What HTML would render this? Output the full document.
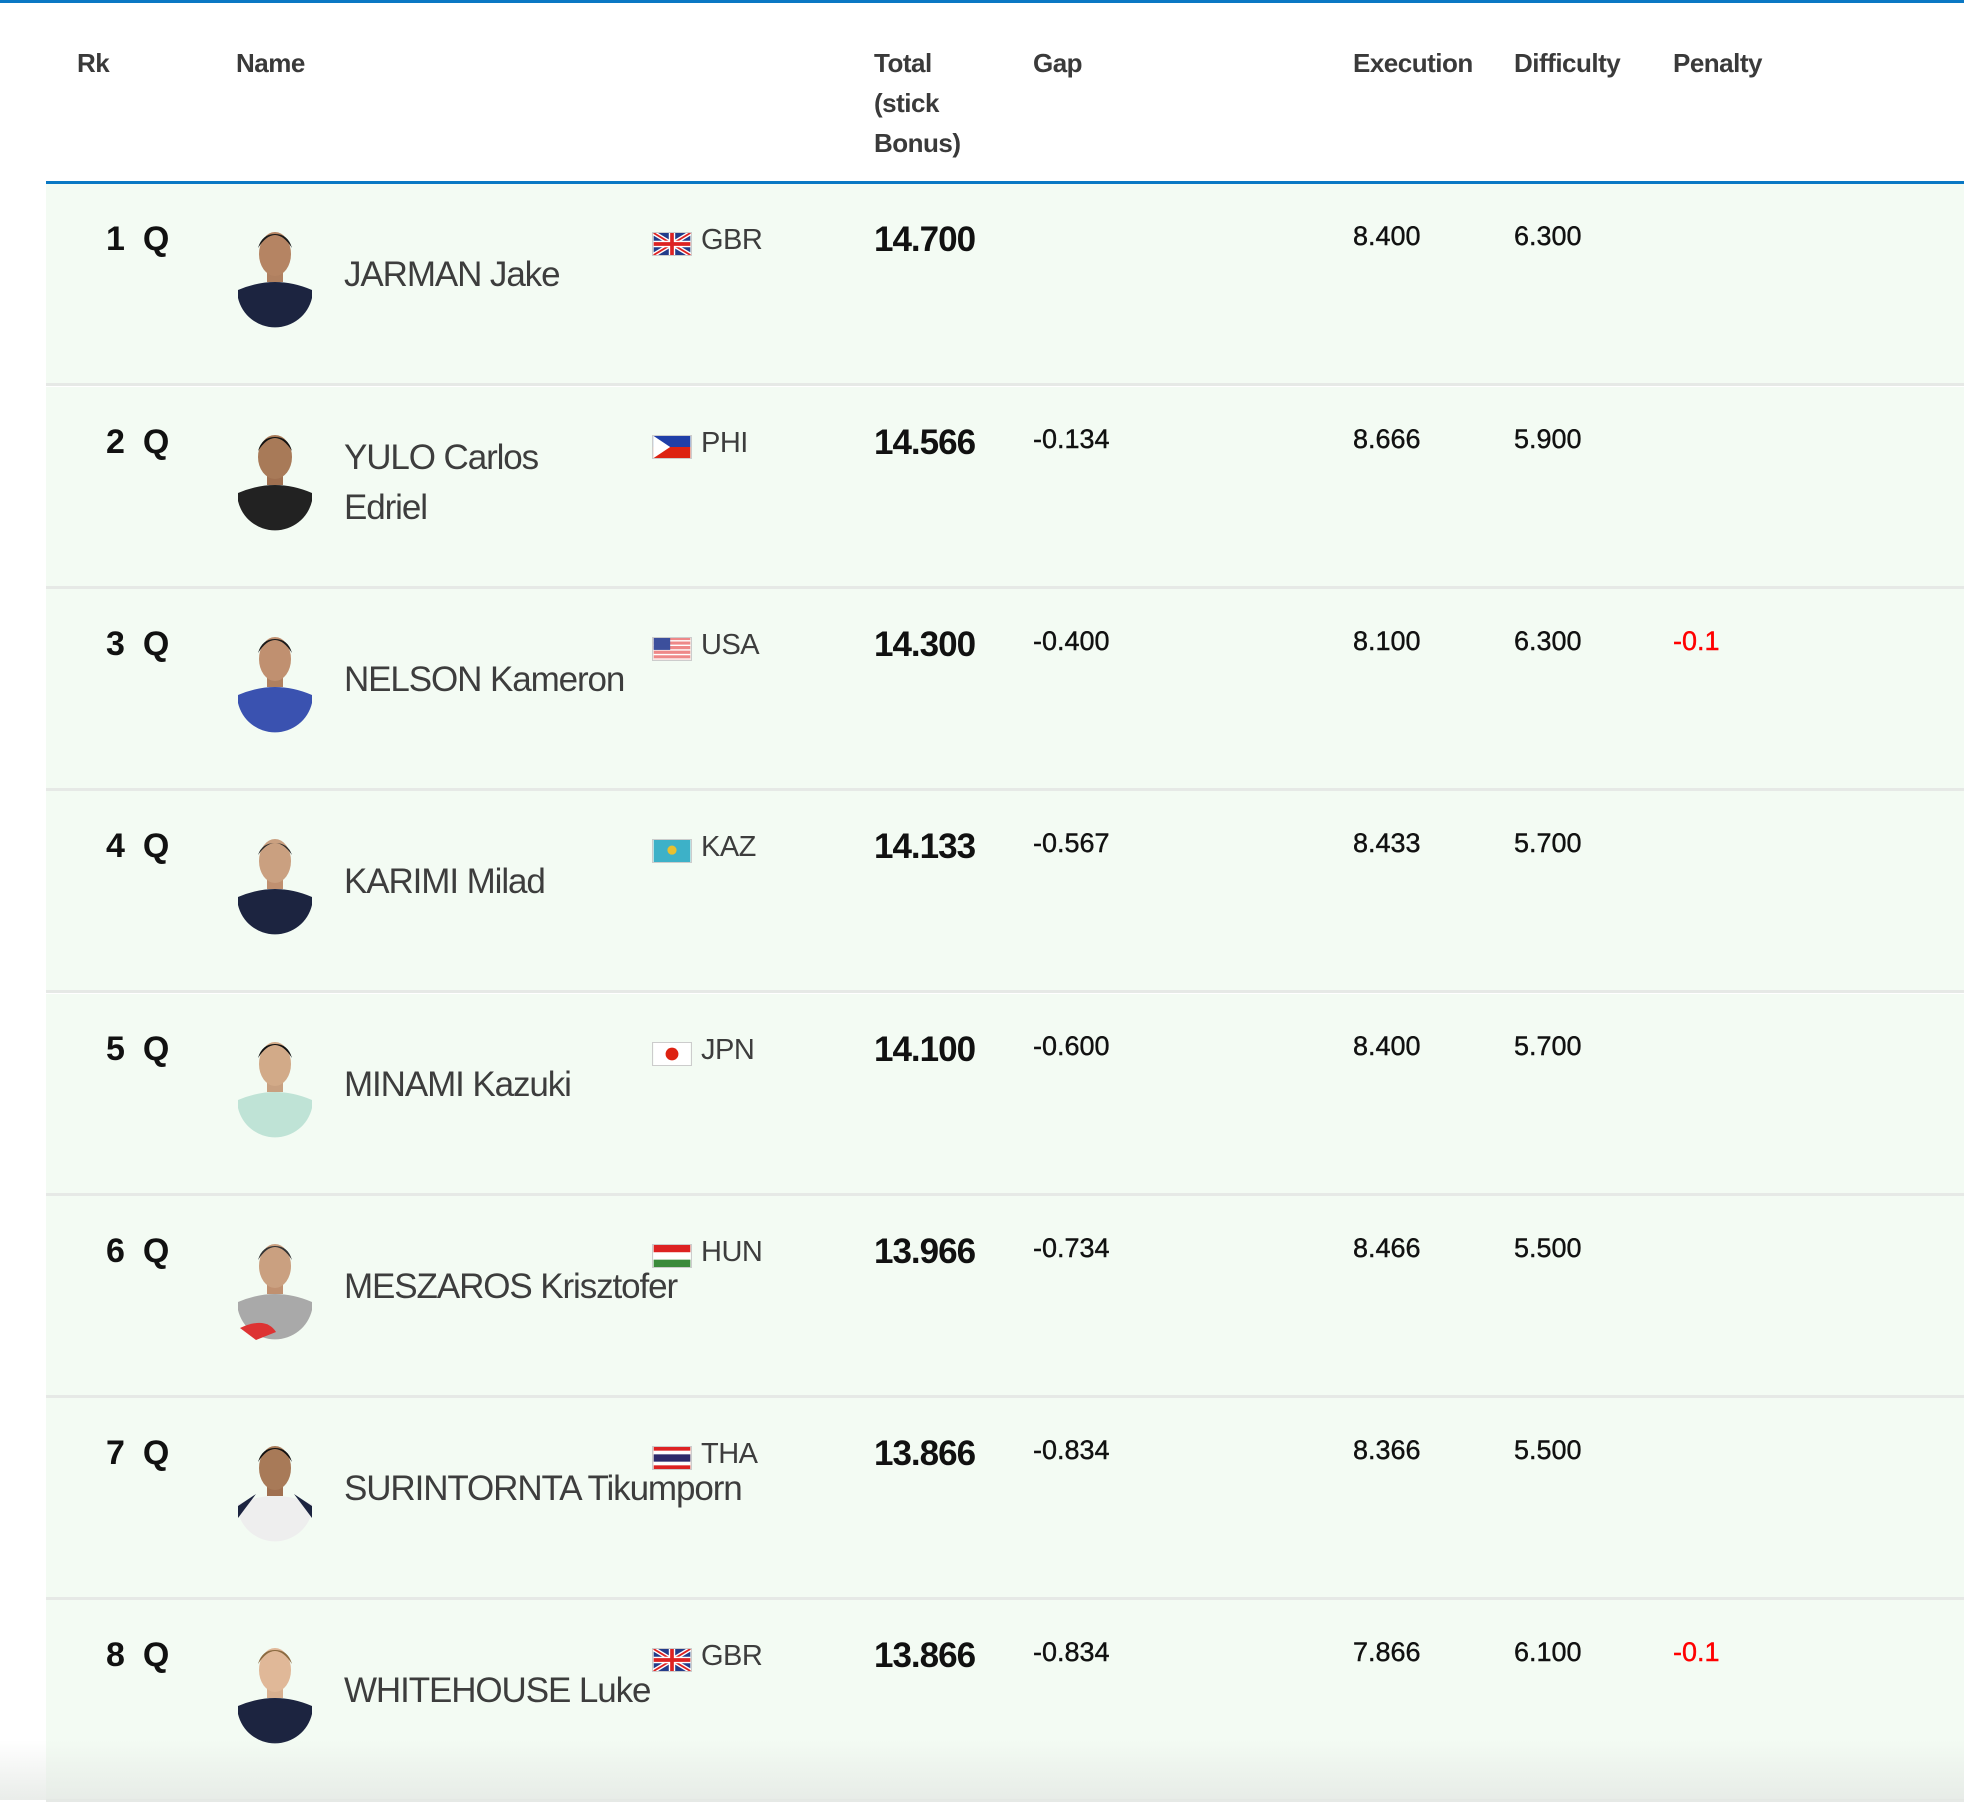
<!DOCTYPE html>
<html><head><meta charset="utf-8">
<style>
*{margin:0;padding:0;box-sizing:border-box}
body{width:1964px;height:1800px;background:#fff;font-family:"Liberation Sans",sans-serif;position:relative;overflow:hidden;color:#333}
.top{position:absolute;left:0;top:0;width:1964px;height:3px;background:#0a78c4}
.h{position:absolute;top:43px;font-size:26px;font-weight:bold;color:#3a3a3a;line-height:40px;letter-spacing:-0.5px}
.hl{position:absolute;left:46px;top:181px;width:1918px;height:3px;background:#0a78c4}
.row{position:absolute;left:46px;width:1918px;height:202px;background:#f3fbf3;border-bottom:3px solid #e6e9e6}
.rk{position:absolute;left:60px;top:36px;font-size:34px;font-weight:bold;color:#111}
.rk span{margin-left:18px}
.ph{position:absolute;left:190px;top:40px;width:78px;height:112px}
.nm{position:absolute;left:298px;font-size:35px;color:#3d3d3d;line-height:50px;letter-spacing:-1.1px;white-space:nowrap}
.fl{position:absolute;left:606px;top:48px;width:40px;height:24px;border:1px solid #ccc}
.cc{position:absolute;left:655px;top:40px;font-size:29px;color:#3d3d3d;letter-spacing:-0.5px}
.tot{position:absolute;left:828px;top:36px;font-size:35px;font-weight:bold;color:#111;letter-spacing:-1px}
.v{position:absolute;top:37px;font-size:27px;color:#111;-webkit-text-stroke:0.4px #111}
.gap{left:987px}.ex{left:1307px}.df{left:1468px}.pn{left:1627px;color:#f00;-webkit-text-stroke:0.4px #f00}
.fade{position:absolute;left:0;top:1740px;width:1964px;height:60px;background:linear-gradient(to bottom,rgba(230,234,230,0),rgba(228,232,228,0.8))}
</style></head><body>
<div class="top"></div>
<div class="h" style="left:77px">Rk</div>
<div class="h" style="left:236px">Name</div>
<div class="h" style="left:874px">Total<br>(stick<br>Bonus)</div>
<div class="h" style="left:1033px">Gap</div>
<div class="h" style="left:1353px">Execution</div>
<div class="h" style="left:1514px">Difficulty</div>
<div class="h" style="left:1673px">Penalty</div>
<div class="hl"></div>

<div class="row" style="top:184px">
 <div class="rk">1<span>Q</span></div>
 <svg class="ph" viewBox="0 0 78 112"><path d="M2 66 Q39 50 76 66 L76 74 A38 38 0 0 1 2 74Z" fill="#1c2440"/><rect x="31" y="44" width="16" height="14" fill="#b08060"/><ellipse cx="39" cy="30" rx="16" ry="22" fill="#b58463"/><path d="M22 24 Q39 -2 56 24 Q52 10 39 10 Q26 10 22 24Z" fill="#1a1a1a"/></svg>
 <div class="nm" style="top:66px">JARMAN Jake</div>
 <svg class="fl" viewBox="0 0 40 24"><rect width="40" height="24" fill="#233c8a"/><path d="M0 0L40 24M40 0L0 24" stroke="#fff" stroke-width="5"/><path d="M0 0L40 24M40 0L0 24" stroke="#d22" stroke-width="2"/><path d="M20 0V24M0 12H40" stroke="#fff" stroke-width="7"/><path d="M20 0V24M0 12H40" stroke="#d22" stroke-width="4"/></svg>
 <div class="cc">GBR</div>
 <div class="tot">14.700</div>
 <div class="v ex">8.400</div><div class="v df">6.300</div>
</div>

<div class="row" style="top:387px">
 <div class="rk">2<span>Q</span></div>
 <svg class="ph" viewBox="0 0 78 112"><path d="M2 66 Q39 50 76 66 L76 74 A38 38 0 0 1 2 74Z" fill="#222"/><rect x="31" y="44" width="16" height="14" fill="#a07050"/><ellipse cx="39" cy="30" rx="17" ry="22" fill="#a87a58"/><path d="M22 24 Q39 -2 56 24 Q52 10 39 10 Q26 10 22 24Z" fill="#111"/></svg>
 <div class="nm" style="top:46px">YULO Carlos<br>Edriel</div>
 <svg class="fl" viewBox="0 0 40 24"><rect width="40" height="12" fill="#1f3fa8"/><rect y="12" width="40" height="12" fill="#d21"/><path d="M0 0L18 12L0 24Z" fill="#fff"/></svg>
 <div class="cc">PHI</div>
 <div class="tot">14.566</div>
 <div class="v gap">-0.134</div><div class="v ex">8.666</div><div class="v df">5.900</div>
</div>

<div class="row" style="top:589px">
 <div class="rk">3<span>Q</span></div>
 <svg class="ph" viewBox="0 0 78 112"><path d="M2 66 Q39 50 76 66 L76 74 A38 38 0 0 1 2 74Z" fill="#3a52b0"/><rect x="31" y="44" width="16" height="14" fill="#b08060"/><ellipse cx="39" cy="30" rx="16" ry="22" fill="#c09070"/><path d="M22 24 Q39 -2 56 24 Q52 10 39 10 Q26 10 22 24Z" fill="#1a1a1a"/></svg>
 <div class="nm" style="top:66px">NELSON Kameron</div>
 <svg class="fl" viewBox="0 0 40 24"><rect width="40" height="24" fill="#e88"/><path d="M0 3H40M0 8H40M0 13H40M0 18H40M0 23H40" stroke="#fff" stroke-width="1.5"/><rect width="18" height="13" fill="#3c4f9c"/></svg>
 <div class="cc">USA</div>
 <div class="tot">14.300</div>
 <div class="v gap">-0.400</div><div class="v ex">8.100</div><div class="v df">6.300</div><div class="v pn">-0.1</div>
</div>

<div class="row" style="top:791px">
 <div class="rk">4<span>Q</span></div>
 <svg class="ph" viewBox="0 0 78 112"><path d="M2 66 Q39 50 76 66 L76 74 A38 38 0 0 1 2 74Z" fill="#1c2440"/><rect x="31" y="44" width="16" height="14" fill="#c09070"/><ellipse cx="39" cy="30" rx="16" ry="22" fill="#caa080"/><path d="M22 24 Q39 0 56 24 Q52 12 39 12 Q26 12 22 24Z" fill="#2a2a2a"/></svg>
 <div class="nm" style="top:66px">KARIMI Milad</div>
 <svg class="fl" viewBox="0 0 40 24"><rect width="40" height="24" fill="#3db1c8"/><circle cx="20" cy="11" r="5" fill="#e8c030"/></svg>
 <div class="cc">KAZ</div>
 <div class="tot">14.133</div>
 <div class="v gap">-0.567</div><div class="v ex">8.433</div><div class="v df">5.700</div>
</div>

<div class="row" style="top:994px">
 <div class="rk">5<span>Q</span></div>
 <svg class="ph" viewBox="0 0 78 112"><path d="M2 66 Q39 50 76 66 L76 74 A38 38 0 0 1 2 74Z" fill="#bfe3d6"/><rect x="31" y="44" width="16" height="14" fill="#c8a080"/><ellipse cx="39" cy="30" rx="16" ry="22" fill="#d2aa88"/><path d="M22 24 Q39 -2 56 24 Q52 10 39 10 Q26 10 22 24Z" fill="#111"/></svg>
 <div class="nm" style="top:66px">MINAMI Kazuki</div>
 <svg class="fl" viewBox="0 0 40 24"><rect width="40" height="24" fill="#fff"/><circle cx="20" cy="12" r="7" fill="#d21"/></svg>
 <div class="cc">JPN</div>
 <div class="tot">14.100</div>
 <div class="v gap">-0.600</div><div class="v ex">8.400</div><div class="v df">5.700</div>
</div>

<div class="row" style="top:1196px">
 <div class="rk">6<span>Q</span></div>
 <svg class="ph" viewBox="0 0 78 112"><path d="M2 66 Q39 50 76 66 L76 74 A38 38 0 0 1 2 74Z" fill="#a9a9a9"/><path d="M4 92 Q30 80 40 96 L20 104Z" fill="#d33"/><rect x="31" y="44" width="16" height="14" fill="#c09070"/><ellipse cx="39" cy="30" rx="16" ry="22" fill="#caa080"/><path d="M22 24 Q39 -2 56 24 Q52 10 39 10 Q26 10 22 24Z" fill="#333"/></svg>
 <div class="nm" style="top:66px">MESZAROS Krisztofer</div>
 <svg class="fl" viewBox="0 0 40 24"><rect width="40" height="8" fill="#d22"/><rect y="8" width="40" height="8" fill="#fff"/><rect y="16" width="40" height="8" fill="#3a8a3a"/></svg>
 <div class="cc">HUN</div>
 <div class="tot">13.966</div>
 <div class="v gap">-0.734</div><div class="v ex">8.466</div><div class="v df">5.500</div>
</div>

<div class="row" style="top:1398px">
 <div class="rk">7<span>Q</span></div>
 <svg class="ph" viewBox="0 0 78 112"><path d="M2 66 Q39 50 76 66 L76 74 A38 38 0 0 1 2 74Z" fill="#eee"/><path d="M20 56 L2 68 L2 80Z M58 56 L76 68 L76 80Z" fill="#1c2440"/><rect x="31" y="44" width="16" height="14" fill="#a07050"/><ellipse cx="39" cy="30" rx="16" ry="22" fill="#a87a58"/><path d="M22 24 Q39 -2 56 24 Q52 10 39 10 Q26 10 22 24Z" fill="#111"/></svg>
 <div class="nm" style="top:66px">SURINTORNTA Tikumporn</div>
 <svg class="fl" viewBox="0 0 40 24"><rect width="40" height="24" fill="#d22"/><rect y="4" width="40" height="16" fill="#fff"/><rect y="8" width="40" height="8" fill="#2d2a6a"/></svg>
 <div class="cc">THA</div>
 <div class="tot">13.866</div>
 <div class="v gap">-0.834</div><div class="v ex">8.366</div><div class="v df">5.500</div>
</div>

<div class="row" style="top:1600px">
 <div class="rk">8<span>Q</span></div>
 <svg class="ph" viewBox="0 0 78 112"><path d="M2 66 Q39 50 76 66 L76 74 A38 38 0 0 1 2 74Z" fill="#1c2440"/><rect x="31" y="44" width="16" height="14" fill="#d8b090"/><ellipse cx="39" cy="30" rx="16" ry="22" fill="#e0b898"/><path d="M22 24 Q39 -2 56 24 Q52 10 39 10 Q26 10 22 24Z" fill="#8a6a40"/></svg>
 <div class="nm" style="top:66px">WHITEHOUSE Luke</div>
 <svg class="fl" viewBox="0 0 40 24"><rect width="40" height="24" fill="#233c8a"/><path d="M0 0L40 24M40 0L0 24" stroke="#fff" stroke-width="5"/><path d="M0 0L40 24M40 0L0 24" stroke="#d22" stroke-width="2"/><path d="M20 0V24M0 12H40" stroke="#fff" stroke-width="7"/><path d="M20 0V24M0 12H40" stroke="#d22" stroke-width="4"/></svg>
 <div class="cc">GBR</div>
 <div class="tot">13.866</div>
 <div class="v gap">-0.834</div><div class="v ex">7.866</div><div class="v df">6.100</div><div class="v pn">-0.1</div>
</div>
<div class="fade"></div>
</body></html>
